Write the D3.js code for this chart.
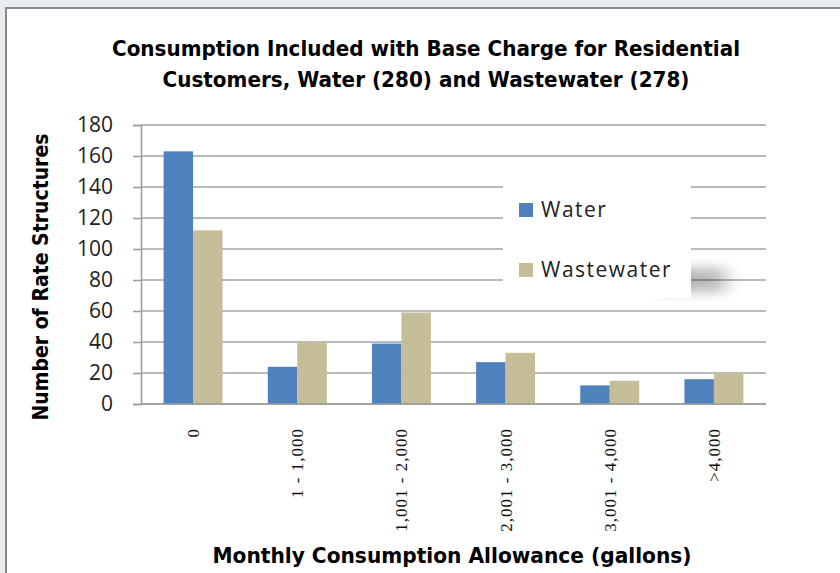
<!DOCTYPE html>
<html lang="en">
<head>
<meta charset="utf-8">
<style>
    body { margin: 0; background: #e9edf0; }
    svg { display: block; }
</style>
</head>
<body>
    <script src="https://d3js.org/d3.v7.min.js"></script>

    <script>
        // chart values
        const categories = ["0", "1 - 1,000", "1,001 - 2,000", "2,001 - 3,000", "3,001 - 4,000", ">4,000"];
        const seriesNames = ["Water", "Wastewater"];
        const water = [163, 24, 39, 27, 12, 16];
        const wastewater = [112, 40, 59, 33, 15, 20];
        const yTicks = [0, 20, 40, 60, 80, 100, 120, 140, 160, 180];
        const colors = ["#4f81bd", "#c4bd97"];

        const width = 840, height = 573;
        const plotLeft = 141, plotRight = 766, plotTop = 125, plotBottom = 404;

        const svg = d3.select("body")
            .append("svg")
            .attr("width", width)
            .attr("height", height);

        const defs = svg.append("defs");
        defs.append("filter").attr("id", "blur")
            .attr("x", "-50%").attr("y", "-80%").attr("width", "200%").attr("height", "260%")
            .append("feGaussianBlur").attr("stdDeviation", "10 6");

        // chart frame
        svg.append("rect")
            .attr("x", 6).attr("y", 8)
            .attr("width", width).attr("height", height)
            .attr("fill", "#fff")
            .attr("stroke", "#8a8a8a")
            .attr("stroke-width", 2);

        const x = d3.scaleBand()
            .domain(categories)
            .range([plotLeft, plotRight])
            .paddingInner(0.434)
            .paddingOuter(0.217);

        const xs = d3.scaleBand()
            .domain(seriesNames)
            .range([0, x.bandwidth()]);

        const y = d3.scaleLinear()
            .domain([0, 180])
            .range([plotBottom, plotTop]);

        // gridlines
        svg.append("g")
            .selectAll("line")
            .data(yTicks)
            .enter()
            .append("line")
            .attr("x1", plotLeft)
            .attr("x2", plotRight)
            .attr("y1", function (d) { return y(d); })
            .attr("y2", function (d) { return y(d); })
            .attr("stroke", "#a3a3a3")
            .attr("stroke-width", 1.5);

        // y axis
        const yAxis = d3.axisLeft(y)
            .tickValues(yTicks)
            .tickSize(8)
            .tickPadding(20);

        const gy = svg.append("g")
            .attr("transform", "translate(" + plotLeft + ",0)")
            .call(yAxis);
        gy.select(".domain").attr("stroke", "#9a9a9a").attr("stroke-width", 1.5);
        gy.selectAll(".tick line").attr("stroke", "#9a9a9a").attr("stroke-width", 1.5);
        gy.selectAll(".tick text")
            .attr("fill", "#222")
            .style("font-family", "'Open Sans', sans-serif")
            .style("font-size", "21px");

        // bars
        const rows = categories.map(function (c, i) {
            return { cat: c, vals: [water[i], wastewater[i]] };
        });

        const g = svg.append("g")
            .selectAll("g")
            .data(rows)
            .enter()
            .append("g")
            .attr("transform", function (d) { return "translate(" + x(d.cat) + ",0)"; });

        g.selectAll("rect")
            .data(function (d) { return d.vals; })
            .enter()
            .append("rect")
            .attr("x", function (d, i) { return xs(seriesNames[i]); })
            .attr("y", function (d) { return y(d); })
            .attr("width", xs.bandwidth())
            .attr("height", function (d) { return y(0) - y(d); })
            .attr("fill", function (d, i) { return colors[i]; });

        // x axis line
        svg.append("line")
            .attr("x1", plotLeft).attr("x2", plotRight)
            .attr("y1", plotBottom).attr("y2", plotBottom)
            .attr("stroke", "#9a9a9a")
            .attr("stroke-width", 1.5);

        // category labels, rotated
        svg.append("g")
            .selectAll("text")
            .data(categories)
            .enter()
            .append("text")
            .attr("transform", function (d) {
                return "translate(" + (x(d) + x.bandwidth() / 2 + 6) + ",428) rotate(-90)";
            })
            .style("text-anchor", "end")
            .style("font-family", "'Liberation Serif', serif")
            .style("font-size", "17px")
            .style("letter-spacing", "1px")
            .attr("fill", "#111")
            .text(function (d) { return d; });

        // legend, with the soft shadow off its lower right corner
        const lg = svg.append("g");
        lg.append("rect")
            .attr("x", 655).attr("y", 268)
            .attr("width", 70).attr("height", 24)
            .attr("fill", "#000")
            .attr("opacity", 0.28)
            .attr("filter", "url(#blur)");
        lg.append("rect")
            .attr("x", 503).attr("y", 183)
            .attr("width", 188).attr("height", 115)
            .attr("fill", "#fff");
        const li = lg.selectAll("g")
            .data(seriesNames)
            .enter()
            .append("g")
            .attr("transform", function (d, i) { return "translate(519," + (203 + i * 60) + ")"; });
        li.append("rect")
            .attr("width", 14).attr("height", 14)
            .attr("fill", function (d, i) { return colors[i]; });
        li.append("text")
            .attr("x", 22).attr("y", 14)
            .style("font-family", "'Open Sans', sans-serif")
            .style("font-size", "21px")
            .style("letter-spacing", "1.5px")
            .attr("fill", "#222")
            .text(function (d) { return d; });

        // titles
        const boldFont = "'Liberation Sans Narrow', 'Arial Narrow', 'DejaVu Sans Condensed', sans-serif";
        function title(txt, tx, ty, len, rot) {
            svg.append("text")
                .attr("transform", "translate(" + tx + "," + ty + ")" + (rot ? " rotate(-90)" : ""))
                .style("text-anchor", "middle")
                .style("font-family", boldFont)
                .style("font-weight", "bold")
                .style("font-size", "21px")
                .attr("textLength", len)
                .attr("lengthAdjust", "spacingAndGlyphs")
                .attr("fill", "#000")
                .text(txt);
        }
        title("Consumption Included with Base Charge for Residential", 426, 56, 628, false);
        title("Customers, Water (280) and Wastewater (278)", 426, 87, 527, false);
        title("Number of Rate Structures", 48, 277, 287, true);
        title("Monthly Consumption Allowance (gallons)", 452, 563, 479, false);
    </script>
</body>
</html>
